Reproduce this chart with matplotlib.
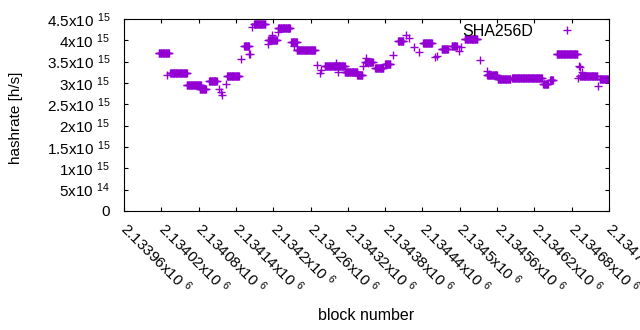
import numpy as np
import matplotlib.pyplot as plt
from matplotlib.ticker import FixedLocator, FuncFormatter

plt.rcParams['font.family'] = ['Liberation Sans', 'DejaVu Sans']
plt.rcParams['mathtext.fontset'] = 'custom'
plt.rcParams['mathtext.rm'] = 'Liberation Sans'
plt.rcParams['mathtext.default'] = 'regular'
plt.rcParams['font.size'] = 11

# runs of blocks with (almost) constant hashrate
run_start = [2134016, 2134034, 2134061, 2134082, 2134097, 2134126, 2134153, 2134169,
             2134192, 2134208, 2134229, 2134238, 2134283, 2134315, 2134335, 2134348,
             2134364, 2134380, 2134401, 2134441, 2134471, 2134487, 2134508, 2134544,
             2134561, 2134584, 2134634, 2134645, 2134656, 2134693, 2134725]
run_end = [2134032, 2134061, 2134084, 2134092, 2134109, 2134145, 2134161, 2134187,
           2134206, 2134227, 2134238, 2134267, 2134315, 2134335, 2134343, 2134360,
           2134377, 2134388, 2134409, 2134455, 2134481, 2134495, 2134528, 2134560,
           2134581, 2134632, 2134642, 2134650, 2134689, 2134721, 2134738]
run_value = [3.70, 3.24, 2.96, 2.86, 3.05, 3.17, 3.87, 4.39,
             4.01, 4.28, 3.97, 3.77, 3.41, 3.25, 3.19, 3.50,
             3.34, 3.44, 3.98, 3.93, 3.79, 3.87, 4.02, 3.19,
             3.09, 3.12, 2.97, 3.07, 3.67, 3.16, 3.09]

# isolated blocks
single_block = [2134029, 2134113, 2134116, 2134118, 2134124, 2134148, 2134161, 2134163,
                2134166, 2134198, 2134192, 2134208, 2134233, 2134270, 2134275, 2134277,
                2134301, 2134304, 2134344, 2134349, 2134352, 2134393, 2134413, 2134418,
                2134426, 2134434, 2134463, 2134460, 2134499, 2134502, 2134532, 2134544,
                2134547, 2134692, 2134693, 2134690, 2134696, 2134722]
single_value = [3.19, 2.86, 2.78, 2.73, 2.97, 3.56, 3.68, 3.67,
                4.32, 4.12, 3.91, 4.20, 3.87, 3.42, 3.23, 3.30,
                3.48, 3.26, 3.41, 3.58, 3.48, 3.66, 4.12, 4.05,
                3.85, 3.72, 3.64, 3.60, 3.75, 3.84, 3.54, 3.28,
                3.20, 3.41, 3.37, 3.12, 3.26, 2.94]

blocks = []
rates = []
for s, e, v in zip(run_start, run_end, run_value):
    b = np.arange(s, e + 1)
    blocks.extend(b)
    rates.extend([v * 1e15] * len(b))
blocks.extend(single_block)
rates.extend([v * 1e15 for v in single_value])

x_ticks = np.arange(2133960, 2134741, 60)
y_ticks = np.arange(0, 4.51e15, 0.5e15)

fig = plt.figure(figsize=(6.4, 3.3), dpi=100)
ax = fig.add_axes([124 / 640, 1 - 211 / 330, 485 / 640, 192 / 330])

ax.plot(blocks, rates, '+', color='#9400d3', markersize=5.5, markeredgewidth=1.0,
        label='SHA256D')

ax.set_xlim(2133960, 2134740)
ax.set_ylim(0, 4.5e15)
ax.xaxis.set_major_locator(FixedLocator(x_ticks))
ax.yaxis.set_major_locator(FixedLocator(y_ticks))


def yfmt(v, pos):
    if v == 0:
        return '0'
    exp = int(np.floor(np.log10(v) + 1e-9))
    return f'{v / 10 ** exp:g}x10 $^{{{exp}}}$'


def xfmt(v, pos):
    return f'{v / 1e6:g}x10 $^{{6}}$'


ax.yaxis.set_major_formatter(FuncFormatter(yfmt))
ax.xaxis.set_major_formatter(FuncFormatter(xfmt))
ax.tick_params(direction='in', length=3, width=0.8, top=True, right=True)
ax.tick_params(axis='y', pad=10)
ax.tick_params(axis='x', pad=10.5)
for lab in ax.get_xticklabels():
    lab.set_rotation(-45)
    lab.set_ha('left')
    lab.set_va('center')
    lab.set_rotation_mode('anchor')
for sp in ax.spines.values():
    sp.set_linewidth(0.8)

fig.text(366 / 640, 1 - 316 / 330, 'block number', ha='center', va='center',
         fontsize=11.5)
fig.text(16 / 640, 1 - 118 / 330, 'hashrate [h/s]', ha='center', va='center',
         rotation=90)

ax.legend(loc='upper right', bbox_to_anchor=(0.946, 0.974), borderaxespad=0,
          borderpad=0, frameon=False, markerfirst=False, handlelength=2,
          handletextpad=1.125, fontsize=11.5)

fig.savefig('out.png', dpi=100)
